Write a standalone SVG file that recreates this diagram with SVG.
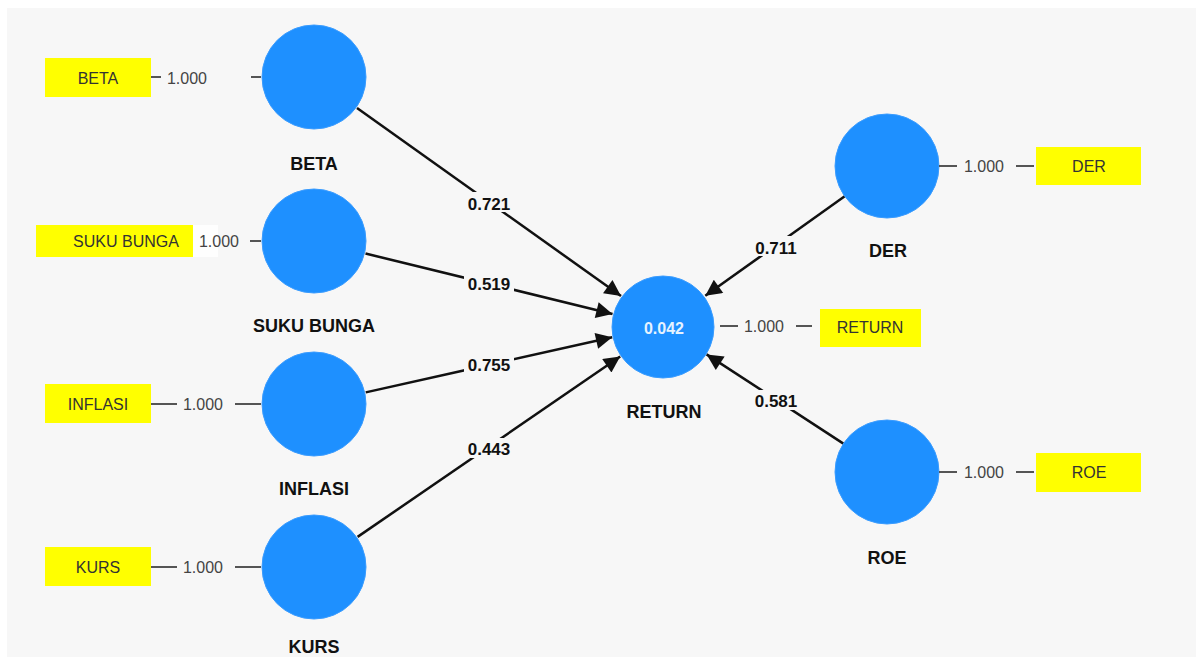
<svg xmlns="http://www.w3.org/2000/svg" width="1199" height="657" viewBox="0 0 1199 657">
<style>
.lv{fill:#1E90FF;stroke:#3a9cff;stroke-width:1}
.box{fill:#FFFF00}
.bt{font-family:"Liberation Sans",Arial,sans-serif;font-size:16px;fill:#333;text-anchor:middle}
.ld{font-family:"Liberation Sans",Arial,sans-serif;font-size:16px;fill:#444;text-anchor:middle}
.ll{stroke:#555;stroke-width:2}
.nl{font-family:"Liberation Sans",Arial,sans-serif;font-size:18px;font-weight:bold;fill:#111;text-anchor:middle}
.pc{font-family:"Liberation Sans",Arial,sans-serif;font-size:17px;font-weight:bold;fill:#111;text-anchor:middle}
.pl{stroke:#111;stroke-width:2.5;fill:none;marker-end:url(#ah)}
.pb{fill:#f7f7f7}
</style>
<defs>
<marker id="ah" viewBox="0 0 10 10" refX="10" refY="5" markerWidth="7.5" markerHeight="6.5" markerUnits="strokeWidth" orient="auto">
<path d="M0,0 L10,5 L0,10 z" fill="#111"/>
</marker>
</defs>
<rect x="0" y="0" width="1199" height="657" fill="#ffffff"/>
<rect x="7" y="8" width="1189" height="649" fill="#f7f7f7"/>

<g id="connectors">
<line class="pl" x1="357" y1="108" x2="621" y2="296"/>
<line class="pl" x1="365.5" y1="253.5" x2="612.5" y2="314"/>
<line class="pl" x1="365.7" y1="392.4" x2="612.2" y2="337.3"/>
<line class="pl" x1="357.6" y1="536.9" x2="620.2" y2="356.5"/>
<line class="pl" x1="844.7" y1="196.2" x2="705.3" y2="295.8"/>
<line class="pl" x1="843.4" y1="443.6" x2="706.6" y2="354.4"/>
<rect class="pb" x="464" y="192" width="50" height="20"/>
<text class="pc" x="489" y="210">0.721</text>
<rect class="pb" x="464" y="274" width="50" height="20"/>
<text class="pc" x="489" y="290">0.519</text>
<rect class="pb" x="464" y="355" width="50" height="20"/>
<text class="pc" x="489" y="371">0.755</text>
<rect class="pb" x="464" y="438" width="50" height="20"/>
<text class="pc" x="489" y="455">0.443</text>
<rect class="pb" x="751" y="236" width="50" height="20"/>
<text class="pc" x="776" y="254">0.711</text>
<rect class="pb" x="751" y="390" width="50" height="20"/>
<text class="pc" x="776" y="407">0.581</text>
</g>

<g id="node-beta">
<rect class="box" x="45" y="58" width="106" height="39"/>
<text class="bt" x="98" y="84">BETA</text>
<line class="ll" x1="151" y1="77" x2="161" y2="77"/>
<text class="ld" x="187" y="84">1.000</text>
<line class="ll" x1="251" y1="77" x2="261" y2="77"/>
<circle class="lv" cx="314" cy="77" r="52"/>
<text class="nl" x="314" y="170">BETA</text>
</g>

<g id="node-suku-bunga">
<rect x="193" y="225" width="25" height="32" fill="#ffffff" opacity="0.8"/>
<rect class="box" x="36" y="225" width="157" height="32"/>
<text class="bt" x="126" y="247">SUKU BUNGA</text>
<text class="ld" x="219" y="247">1.000</text>
<line class="ll" x1="250" y1="241" x2="261" y2="241"/>
<circle class="lv" cx="314" cy="241" r="52"/>
<text class="nl" x="314" y="332">SUKU BUNGA</text>
</g>

<g id="node-inflasi">
<rect class="box" x="45" y="384" width="106" height="39"/>
<text class="bt" x="98" y="410">INFLASI</text>
<line class="ll" x1="151" y1="404" x2="177" y2="404"/>
<text class="ld" x="203" y="410">1.000</text>
<line class="ll" x1="235" y1="404" x2="261" y2="404"/>
<circle class="lv" cx="314" cy="404" r="52"/>
<text class="nl" x="314" y="495">INFLASI</text>
</g>

<g id="node-kurs">
<rect class="box" x="45" y="547" width="106" height="39"/>
<text class="bt" x="98" y="573">KURS</text>
<line class="ll" x1="151" y1="567" x2="177" y2="567"/>
<text class="ld" x="203" y="573">1.000</text>
<line class="ll" x1="235" y1="567" x2="261" y2="567"/>
<circle class="lv" cx="314" cy="567" r="52"/>
<text class="nl" x="314" y="653">KURS</text>
</g>

<g id="node-return">
<circle class="lv" cx="663" cy="327" r="51"/>
<text x="664" y="334" font-family="Liberation Sans,Arial,sans-serif" font-size="16" font-weight="bold" fill="#e6f3ff" text-anchor="middle">0.042</text>
<line class="ll" x1="720" y1="326" x2="738" y2="326"/>
<text class="ld" x="764" y="332">1.000</text>
<line class="ll" x1="796" y1="326" x2="812" y2="326"/>
<rect class="box" x="820" y="309" width="101" height="38"/>
<text class="bt" x="870" y="333">RETURN</text>
<text class="nl" x="664" y="418">RETURN</text>
</g>

<g id="node-der">
<circle class="lv" cx="887" cy="166" r="52"/>
<line class="ll" x1="939" y1="166" x2="957" y2="166"/>
<text class="ld" x="984" y="172">1.000</text>
<line class="ll" x1="1016" y1="166" x2="1034" y2="166"/>
<rect class="box" x="1036" y="147" width="105" height="38"/>
<text class="bt" x="1089" y="172">DER</text>
<text class="nl" x="888" y="257">DER</text>
</g>

<g id="node-roe">
<circle class="lv" cx="887" cy="472" r="52"/>
<line class="ll" x1="939" y1="472" x2="957" y2="472"/>
<text class="ld" x="984" y="478">1.000</text>
<line class="ll" x1="1016" y1="472" x2="1034" y2="472"/>
<rect class="box" x="1036" y="453" width="105" height="39"/>
<text class="bt" x="1089" y="478">ROE</text>
<text class="nl" x="887" y="564">ROE</text>
</g>
</svg>
